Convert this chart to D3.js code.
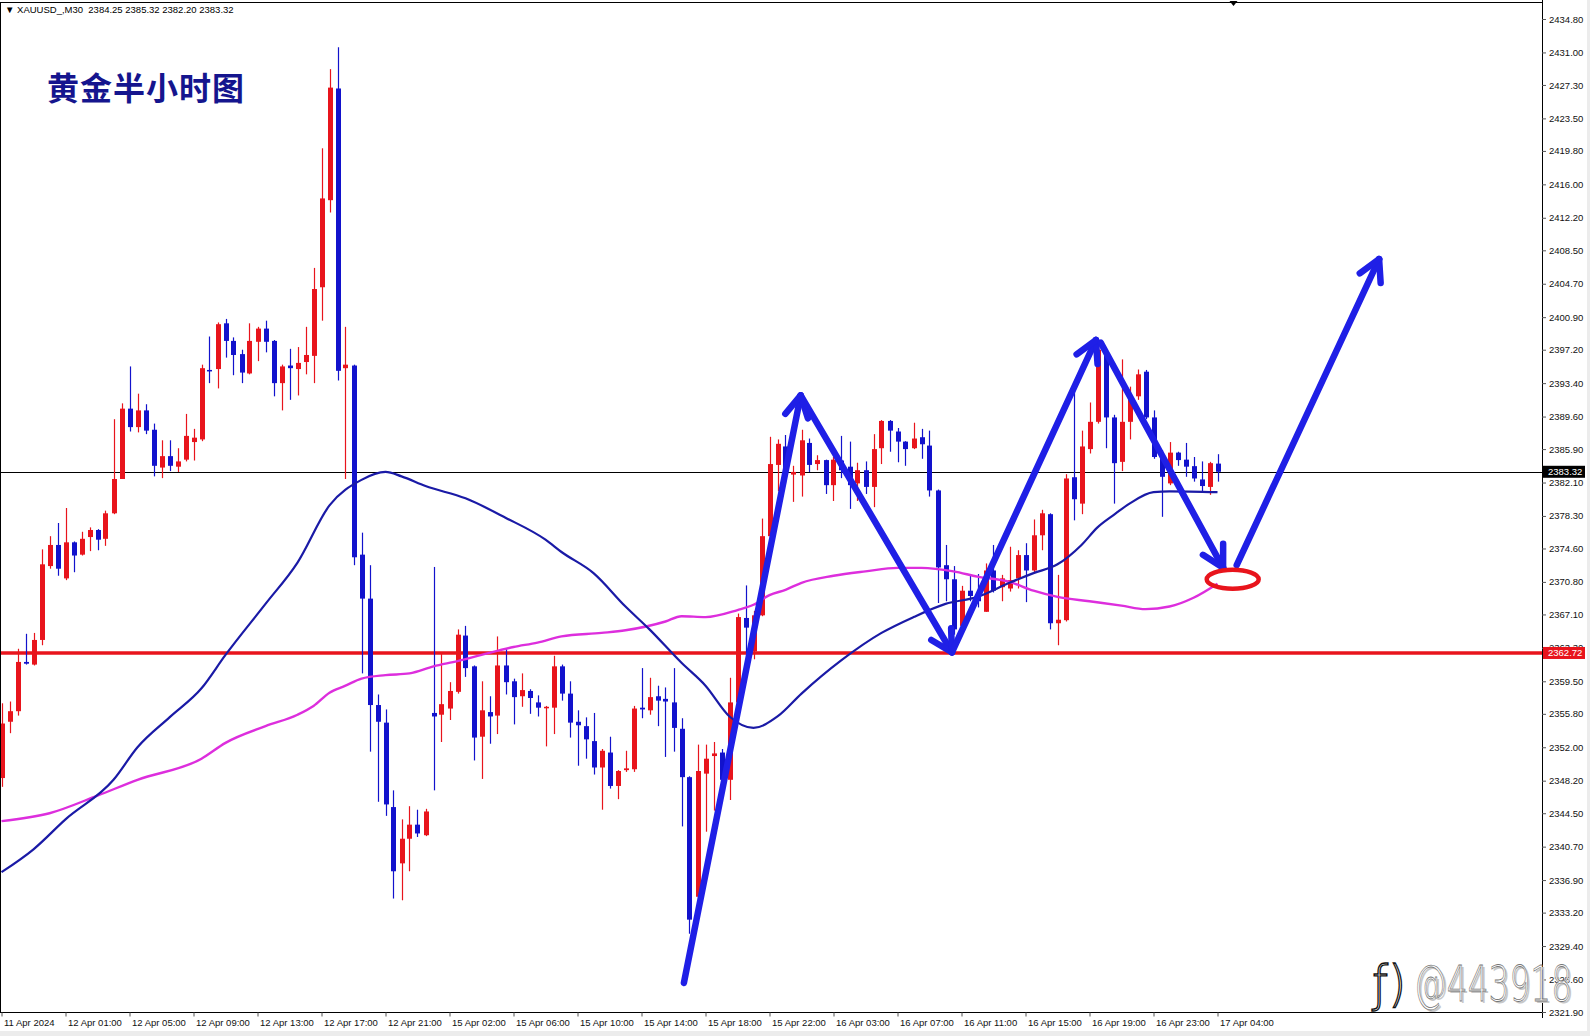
<!DOCTYPE html>
<html>
<head>
<meta charset="utf-8">
<script src="https://cdn.jsdelivr.net/npm/d3@7"></script>
<style>
body { margin: 0; background: #fff; }
svg { display: block; }
</style>
</head>
<body>
<div id="chart"></div>
<script>

// XAUUSD M30, bar 0 = 11 Apr 2024 20:00 ... bar 152 = 17 Apr 04:00
const opens = [2348.5,2354.9,2356.1,2361.7,2361.4,2364.2,2372.6,2375.0,2371.2,2375.3,
  2373.9,2375.9,2376.7,2375.7,2378.6,2382.5,2390.5,2388.4,2390.3,2388.1,
  2383.8,2385.1,2383.9,2384.7,2386.7,2387.0,2394.9,2395.0,2400.2,2398.2,
  2396.7,2394.5,2398.1,2399.6,2398.2,2393.4,2395.4,2395.0,2395.8,2396.5,
  2404.3,2414.2,2426.9,2395.1,2395.4,2373.9,2368.9,2356.8,2354.8,2345.2,
  2338.8,2341.6,2343.2,2342.0,2355.9,2355.7,2356.4,2358.3,2364.7,2361.2,
  2353.2,2356.0,2355.6,2361.3,2359.5,2357.8,2358.4,2357.1,2356.5,2356.5,
  2361.2,2358.1,2354.9,2354.4,2352.7,2349.7,2351.4,2347.6,2349.4,2349.5,
  2356.5,2356.2,2357.8,2357.5,2357.1,2354.1,2348.6,2335.0,2349.0,2351.0,
  2351.4,2348.3,2357.1,2366.7,2362.9,2367.0,2376.0,2384.1,2386.2,2383.0,
  2382.9,2386.6,2384.2,2384.65,2381.8,2384.6,2383.9,2382.0,2383.5,2381.6,
  2386.0,2389.1,2387.9,2386.75,2386.0,2387.25,2386.3,2381.2,2372.7,2371.1,
  2365.8,2369.8,2369.6,2367.4,2372.1,2370.2,2370.05,2371.2,2373.85,2372.1,
  2376.1,2378.5,2366.1,2366.45,2382.7,2379.7,2385.9,2389.0,2397.0,2389.5,
  2384.45,2389.0,2391.9,2394.7,2389.5,2385.1,2382.0,2385.5,2384.7,2383.96,
  2382.45,2381.6,2384.25];
const highs = [2357.0,2357.2,2363.2,2364.9,2365.0,2374.5,2376.0,2377.5,2379.2,2375.4,
  2376.5,2377.0,2376.8,2378.9,2389.3,2391.1,2395.3,2392.2,2391.0,2388.8,
  2386.9,2386.9,2386.0,2389.9,2388.2,2395.5,2398.7,2400.3,2400.7,2398.6,
  2397.2,2400.2,2399.8,2400.5,2398.3,2395.5,2397.3,2397.5,2399.8,2406.5,
  2420.1,2429.1,2431.6,2399.8,2395.5,2376.4,2372.7,2358.0,2356.3,2347.1,
  2343.8,2345.3,2344.9,2345.0,2372.5,2362.7,2359.4,2365.4,2365.8,2361.3,
  2359.5,2357.8,2364.6,2363.2,2359.8,2360.4,2358.6,2357.9,2356.7,2362.4,
  2361.4,2359.5,2356.2,2355.4,2355.9,2351.8,2353.2,2349.4,2351.6,2356.7,
  2361.0,2359.9,2359.0,2358.8,2361.0,2355.3,2348.7,2352.3,2352.3,2352.6,
  2351.8,2359.9,2367.2,2370.4,2367.5,2378.0,2387.3,2387.0,2387.5,2384.0,
  2388.1,2387.1,2385.2,2384.7,2385.0,2387.4,2386.75,2384.35,2384.5,2387.6,
  2389.2,2389.2,2388.3,2386.8,2388.9,2388.2,2388.0,2381.3,2375.0,2372.6,
  2370.35,2371.7,2371.7,2372.9,2375.0,2371.6,2374.8,2374.4,2375.2,2377.9,
  2379.0,2378.6,2371.6,2383.05,2392.6,2388.0,2391.2,2397.5,2397.1,2389.8,
  2396.1,2393.0,2394.95,2394.9,2390.3,2385.8,2386.7,2385.6,2386.6,2385.0,
  2384.5,2384.45,2385.32];
const lows = [2347.5,2353.6,2355.6,2361.4,2361.3,2363.6,2372.3,2371.5,2371.0,2371.9,
  2373.8,2374.3,2374.4,2374.9,2378.5,2382.5,2387.9,2387.8,2387.6,2382.8,
  2382.6,2383.4,2383.3,2384.5,2384.6,2386.8,2393.4,2392.8,2396.3,2394.3,
  2393.4,2394.4,2395.9,2396.9,2391.9,2390.3,2391.5,2392.0,2394.4,2393.4,
  2400.5,2412.8,2393.7,2382.5,2372.7,2360.4,2351.5,2345.8,2344.2,2334.8,
  2334.6,2337.9,2341.8,2341.9,2347.1,2352.6,2355.1,2358.1,2360.0,2350.5,
  2348.4,2352.4,2353.5,2358.0,2354.6,2356.6,2355.8,2355.5,2352.1,2353.5,
  2357.3,2353.1,2349.9,2350.7,2348.9,2344.9,2347.3,2346.1,2349.2,2349.2,
  2355.3,2355.7,2354.4,2350.9,2351.5,2343.0,2330.8,2333.8,2342.4,2344.8,
  2347.4,2346.0,2356.9,2362.7,2362.0,2366.9,2375.9,2381.1,2382.0,2379.9,
  2380.5,2383.3,2383.5,2380.8,2380.0,2382.6,2379.1,2380.0,2380.8,2379.3,
  2384.2,2385.6,2384.4,2384.0,2385.9,2384.8,2380.5,2368.4,2368.6,2364.8,
  2365.2,2368.6,2367.9,2367.4,2369.6,2368.6,2369.7,2370.05,2368.5,2371.8,
  2374.4,2365.4,2363.6,2366.3,2377.8,2378.5,2385.4,2388.8,2386.0,2379.7,
  2383.4,2387.0,2391.5,2389.3,2384.8,2378.2,2381.8,2384.0,2382.75,2382.2,
  2381.0,2380.7,2382.20];
const closes = [2354.7,2356.1,2361.7,2361.5,2364.2,2372.8,2375.0,2372.3,2375.3,2373.8,
  2375.7,2376.7,2375.6,2378.6,2382.5,2390.5,2388.4,2390.3,2388.0,2384.0,
  2385.1,2384.0,2384.5,2387.4,2387.2,2395.1,2394.8,2400.1,2398.2,2396.6,
  2394.6,2398.2,2399.6,2398.1,2393.4,2395.3,2395.1,2395.7,2396.6,2404.1,
  2414.4,2427.0,2394.8,2395.5,2373.6,2368.9,2356.8,2354.9,2345.5,2337.9,
  2341.6,2343.2,2342.2,2344.7,2355.5,2356.9,2358.4,2364.8,2361.0,2353.1,
  2356.2,2355.5,2361.3,2359.4,2357.7,2358.5,2357.6,2356.5,2356.6,2361.2,
  2358.1,2354.8,2354.5,2352.9,2349.7,2351.6,2347.6,2349.3,2349.6,2356.4,
  2356.3,2357.7,2357.3,2357.2,2354.2,2348.6,2332.4,2349.3,2350.7,2351.3,
  2348.3,2357.1,2366.8,2365.6,2367.0,2376.0,2384.2,2386.5,2383.5,2383.3,
  2386.9,2384.1,2384.65,2381.8,2384.7,2383.5,2381.8,2383.5,2381.6,2385.9,
  2389.1,2388.0,2386.75,2385.9,2387.1,2386.45,2381.2,2372.45,2371.1,2365.4,
  2369.8,2369.2,2368.6,2372.1,2369.8,2371.2,2371.0,2373.85,2372.1,2376.1,
  2378.6,2366.1,2366.5,2382.56,2380.2,2386.2,2389.0,2397.2,2389.5,2384.3,
  2389.0,2391.9,2394.4,2389.5,2385.0,2382.75,2385.5,2384.65,2383.9,2382.56,
  2381.7,2384.3,2383.32];

// moving averages: [bar, price]
const maBlue = [[0,2337.8],[4,2340.4],[8,2343.8],[14,2348.3],[17,2352.0],[21,2355.4],
  [25,2358.7],[28,2362.5],[33,2368.3],[37,2373.0],[41,2379.5],[45,2382.4],[48,2383.3],
  [50,2382.8],[53,2381.7],[58,2380.3],[63,2378.1],[68,2375.6],[70,2374.2],[74,2371.8],
  [78,2368.0],[81,2365.4],[85,2361.6],[88,2359.0],[91,2355.5],[94,2354.2],[97,2355.5],
  [100,2358.1],[105,2361.9],[110,2365.0],[114,2366.8],[118,2368.3],[122,2369.1],
  [126,2370.7],[129,2371.8],[132,2372.8],[135,2375.0],[137,2377.0],[139,2378.4],
  [141,2379.7],[144,2381.0],[146,2381.1],[152,2381.0]];
const maMagenta = [[0,2343.6],[6,2344.5],[12,2346.5],[17,2348.3],[25,2350.7],[28,2352.5],
  [33,2354.4],[37,2355.7],[39,2356.7],[41,2358.2],[43,2359.0],[45,2359.8],[48,2360.2],
  [51,2360.4],[54,2361.2],[57,2361.8],[60,2362.5],[64,2363.4],[67,2363.9],[70,2364.6],
  [75,2365.0],[78,2365.3],[83,2366.3],[85,2366.9],[88,2366.8],[92,2367.6],[94,2368.2],
  [96,2369.3],[98,2369.9],[100,2370.7],[104,2371.5],[108,2372.0],[112,2372.4],
  [115,2372.4],[119,2372.0],[122,2371.4],[126,2370.8],[129,2369.8],[132,2369.1],
  [136,2368.6],[140,2368.1],[143,2367.7],[146,2368.0],[149,2369.0],[152,2370.6]];

const priceTicks = [2434.80,2431.00,2427.30,2423.50,2419.80,2416.00,2412.20,2408.50,
  2404.70,2400.90,2397.20,2393.40,2389.60,2385.90,2382.10,2378.30,2374.60,2370.80,
  2367.10,2363.30,2359.50,2355.80,2352.00,2348.20,2344.50,2340.70,2336.90,2333.20,
  2329.40,2325.60,2321.90];
const timeLabels = ['11 Apr 2024','12 Apr 01:00','12 Apr 05:00','12 Apr 09:00','12 Apr 13:00',
  '12 Apr 17:00','12 Apr 21:00','15 Apr 02:00','15 Apr 06:00','15 Apr 10:00','15 Apr 14:00',
  '15 Apr 18:00','15 Apr 22:00','16 Apr 03:00','16 Apr 07:00','16 Apr 11:00','16 Apr 15:00',
  '16 Apr 19:00','16 Apr 23:00','17 Apr 04:00'];
const timeBars = timeLabels.map((d, i) => i * 8);

const bidPrice = 2383.32;
const levelPrice = 2362.72;
const header = '▼ XAUUSD_,M30  2384.25 2385.32 2382.20 2383.32';
const title = '黄金半小时图';

// hand drawn arrows [from, to] as [bar, price]
const arrows = [
  [[85.3, 2325.2], [99.9, 2392.0]],
  [[99.9, 2392.0], [118.8, 2362.8]],
  [[118.8, 2362.8], [136.8, 2398.3]],
  [[137.4, 2398.0], [152.7, 2372.4]],
  [[154.4, 2372.7], [172.2, 2407.5]]
];
const ellipseAt = [153.9, 2371.1];

const width = 1590;
const height = 1036;
const plotRight = 1542;
const plotBottom = 1012;
const red = '#e8141c';
const blue = '#1212cc';
const font = '"Liberation Sans", Arial, sans-serif';

const x = d3.scaleLinear().domain([0, 192.5]).range([1.5, 1541.5]);
const y = d3.scaleLinear().domain([2321.9, 2434.8]).range([1012, 19]);

const svg = d3.select('#chart')
    .append('svg')
    .attr('width', width)
    .attr('height', height);

svg.append('rect').attr('width', width).attr('height', height).attr('fill', '#fff');
svg.append('rect').attr('x', 0).attr('y', 1031).attr('width', width).attr('height', 5).attr('fill', '#ececec');
svg.append('rect').attr('x', 1587).attr('y', 0).attr('width', 3).attr('height', height).attr('fill', '#ececec');

svg.append('clipPath').attr('id', 'plot')
    .append('rect').attr('x', 0).attr('y', 2).attr('width', plotRight).attr('height', plotBottom - 2);

const ctr = svg.append('g').attr('clip-path', 'url(#plot)');

// horizontal lines
ctr.append('line')
    .attr('x1', 0).attr('x2', plotRight)
    .attr('y1', Math.round(y(bidPrice)) + 0.5).attr('y2', Math.round(y(bidPrice)) + 0.5)
    .attr('stroke', '#000').attr('stroke-width', 1);
ctr.append('line')
    .attr('x1', 0).attr('x2', plotRight)
    .attr('y1', y(levelPrice)).attr('y2', y(levelPrice))
    .attr('stroke', red).attr('stroke-width', 3.5);

// candles
const bars = d3.range(opens.length);
const colorOf = (i) => closes[i] >= opens[i] ? red : blue;
const cx = (i) => Math.round(x(i));

const candles = ctr.append('g');
candles.selectAll('line')
    .data(bars)
    .join('line')
    .attr('x1', (i) => cx(i) + 0.5)
    .attr('x2', (i) => cx(i) + 0.5)
    .attr('y1', (i) => y(highs[i]))
    .attr('y2', (i) => y(lows[i]))
    .attr('stroke', colorOf)
    .attr('stroke-width', 1.2);
candles.selectAll('rect')
    .data(bars)
    .join('rect')
    .attr('x', (i) => cx(i) - 2)
    .attr('width', 5)
    .attr('y', (i) => y(Math.max(opens[i], closes[i])))
    .attr('height', (i) => Math.max(1.5, Math.abs(y(opens[i]) - y(closes[i]))))
    .attr('fill', colorOf);

// moving averages
const maLine = d3.line()
    .x((d) => x(d[0]))
    .y((d) => y(d[1]))
    .curve(d3.curveMonotoneX);

ctr.append('path')
    .attr('d', maMagenta.length ? maLine(maMagenta) : null)
    .attr('fill', 'none')
    .attr('stroke', '#dd2edd')
    .attr('stroke-width', 2.4);
ctr.append('path')
    .attr('d', maLine(maBlue))
    .attr('fill', 'none')
    .attr('stroke', '#1a1aa6')
    .attr('stroke-width', 2.2);

// arrows
const arrowColor = '#1f1fe6';
const heads = ctr.append('g')
    .attr('stroke', arrowColor)
    .attr('stroke-width', 6.5)
    .attr('stroke-linecap', 'round')
    .attr('fill', 'none');

arrows.forEach(([a, b]) => {
    const x1 = x(a[0]), y1 = y(a[1]), x2 = x(b[0]), y2 = y(b[1]);
    heads.append('line').attr('x1', x1).attr('y1', y1).attr('x2', x2).attr('y2', y2);
    const ang = Math.atan2(y2 - y1, x2 - x1);
    const len = 24;
    [-0.5, 0.5].forEach((s) => {
        heads.append('line')
            .attr('x1', x2).attr('y1', y2)
            .attr('x2', x2 - len * Math.cos(ang + s))
            .attr('y2', y2 - len * Math.sin(ang + s));
    });
});

ctr.append('ellipse')
    .attr('cx', x(ellipseAt[0]))
    .attr('cy', y(ellipseAt[1]))
    .attr('rx', 26)
    .attr('ry', 9.5)
    .attr('fill', 'none')
    .attr('stroke', red)
    .attr('stroke-width', 4.5);

// frame
const frame = svg.append('g').attr('stroke', '#000').attr('stroke-width', 1);
frame.append('line').attr('x1', 0).attr('x2', plotRight).attr('y1', 2.5).attr('y2', 2.5);
frame.append('line').attr('x1', 0.5).attr('x2', 0.5).attr('y1', 2).attr('y2', plotBottom);
frame.append('line').attr('x1', plotRight + 0.5).attr('x2', plotRight + 0.5).attr('y1', 0).attr('y2', plotBottom + 6);
frame.append('line').attr('x1', 0).attr('x2', plotRight).attr('y1', plotBottom + 0.5).attr('y2', plotBottom + 0.5);

// price axis
svg.append('g')
    .attr('transform', `translate(${plotRight},0)`)
    .call(d3.axisRight(y).tickValues(priceTicks).tickFormat(d3.format('.2f')).tickSize(4).tickPadding(3))
    .call((g) => g.select('.domain').remove())
    .call((g) => g.selectAll('line').attr('stroke', '#555'))
    .call((g) => g.selectAll('text').attr('font-family', font).attr('font-size', 9.5).attr('fill', '#111'));

// time axis
svg.append('g')
    .attr('transform', `translate(0,${plotBottom + 0.5})`)
    .call(d3.axisBottom(x).tickValues(timeBars).tickFormat((d, i) => timeLabels[i]).tickSize(4).tickPadding(3))
    .call((g) => g.select('.domain').remove())
    .call((g) => g.selectAll('line').attr('stroke', '#555'))
    .call((g) => g.selectAll('text')
        .attr('font-family', font).attr('font-size', 9.5).attr('fill', '#111')
        .attr('text-anchor', 'start').attr('dx', 2));

// price tags
const tag = (price, fill) => {
    const g = svg.append('g').attr('transform', `translate(${plotRight + 1},${y(price)})`);
    g.append('rect').attr('x', 0).attr('y', -6).attr('width', 42).attr('height', 12).attr('fill', fill);
    g.append('text').attr('x', 5).attr('y', 0).attr('dy', '0.35em')
        .attr('font-family', font).attr('font-size', 9.5).attr('fill', '#fff')
        .text(d3.format('.2f')(price));
};
tag(levelPrice, red);
tag(bidPrice, '#000');

// shift marker
svg.append('path')
    .attr('d', `M${x(154) - 4},1 L${x(154) + 4},1 L${x(154)},6 Z`)
    .attr('fill', '#000');

// header and title
svg.append('text')
    .attr('x', 5).attr('y', 10).attr('dy', '0.35em')
    .attr('font-family', font).attr('font-size', 9.5).attr('fill', '#000')
    .attr('xml:space', 'preserve')
    .text(header);

svg.append('text')
    .attr('x', 47).attr('y', 88).attr('dy', '0.36em')
    .attr('font-family', '"Noto Sans CJK SC", sans-serif')
    .attr('font-weight', 'bold')
    .attr('font-size', 32)
    .attr('letter-spacing', 1)
    .attr('fill', '#15158e')
    .text(title);

// watermark
const wm = svg.append('g')
    .attr('font-family', '"DejaVu Sans", sans-serif')
    .attr('font-weight', 200)
    .attr('font-size', 50);
wm.append('text').attr('x', 1416).attr('y', 1003).attr('textLength', 158).attr('lengthAdjust', 'spacingAndGlyphs')
    .attr('fill', '#c8c8c8').text('@443918');
wm.append('text').attr('x', 1414).attr('y', 1001).attr('textLength', 158).attr('lengthAdjust', 'spacingAndGlyphs')
    .attr('fill', '#fff').attr('stroke', '#777').attr('stroke-width', 0.8).text('@443918');
wm.append('text').attr('x', 1372).attr('y', 1001).attr('textLength', 34).attr('lengthAdjust', 'spacingAndGlyphs')
    .attr('fill', '#fff').attr('stroke', '#111').attr('stroke-width', 1.4).text('ƒ)');

</script>
</body>
</html>
